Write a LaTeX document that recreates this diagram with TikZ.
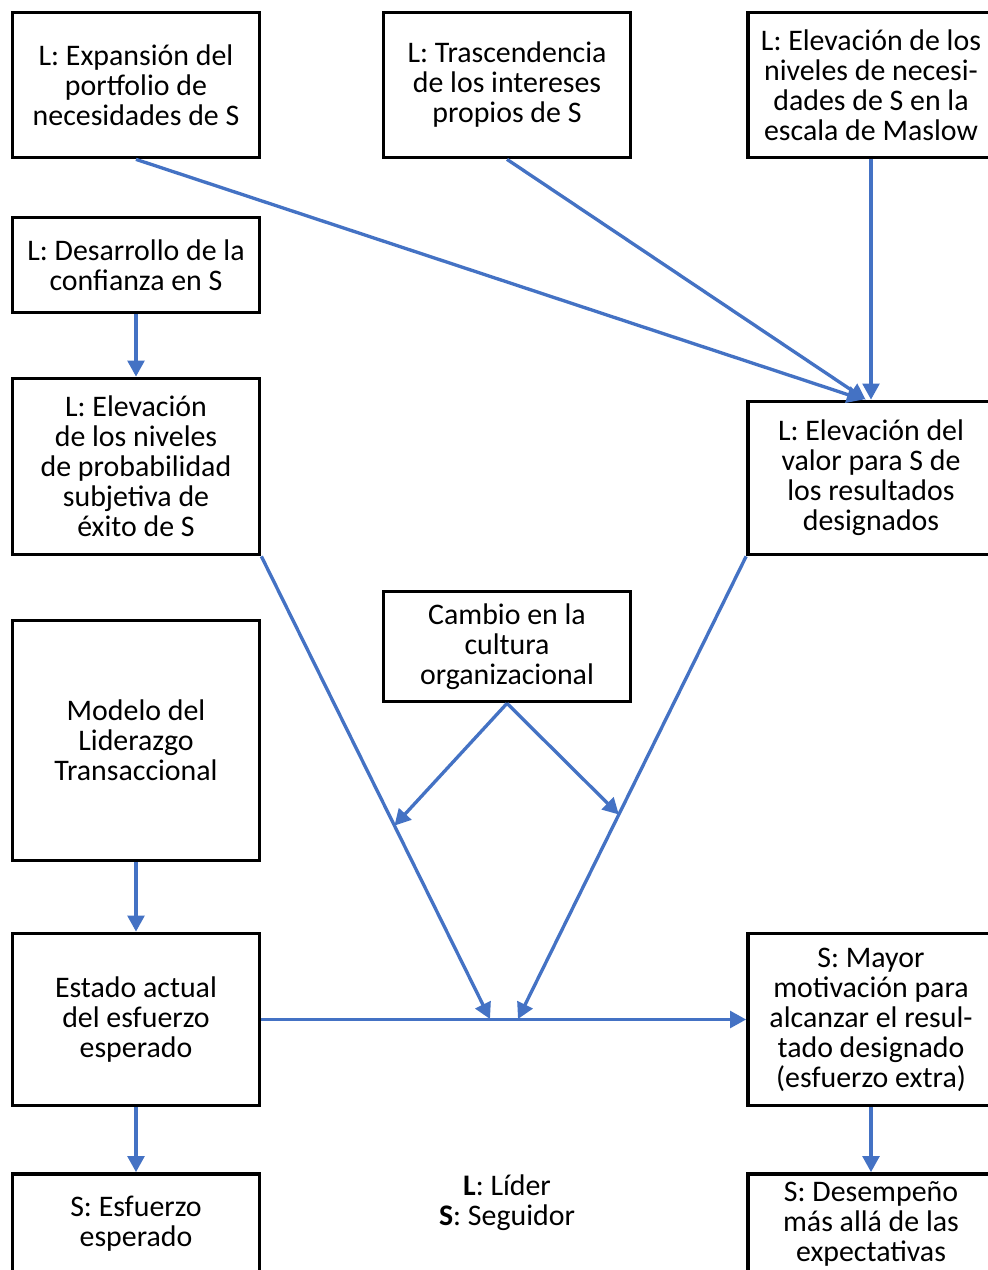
\documentclass[tikz,border=0pt]{standalone}
\usepackage{fontspec}
\setmainfont{Carlito}
\usetikzlibrary{arrows.meta,calc}
\definecolor{arrblue}{HTML}{4472C4}
\begin{document}
\begin{tikzpicture}[x=0.75pt,y=-0.75pt,
  box/.style={draw=black,line width=2.8pt,align=center,inner sep=0pt,
    font=\fontsize{22.4pt}{22.5pt}\selectfont},
  conn/.style={draw=arrblue,line width=2.5pt,-{Triangle[length=12pt,width=12.5pt]}}]
\useasboundingbox (0,0) rectangle (988,1270);
\clip (0,0) rectangle (988,1270);
\fill[white] (0,0) rectangle (988,1270);
% boxes
\node[box,minimum width=185.25pt,minimum height=108.75pt] (exp) at (136,85) {L: Expansión del\\portfolio de\\necesidades de S};
\node[box,minimum width=185.25pt,minimum height=108.75pt] (tras) at (507,85) {L: Trascendencia\\de los intereses\\propios de S};
\node[box,minimum width=184.5pt,minimum height=108.75pt] (mas) at (871,85) {L: Elevación de los\\niveles de necesi-\\dades de S en la\\escala de Maslow};
\node[box,minimum width=185.25pt,minimum height=71.25pt] (des) at (136,265) {L: Desarrollo de la\\confianza en S};
\node[box,minimum width=185.25pt,minimum height=132pt] (prob) at (136,466.5) {L: Elevación\\de los niveles\\de probabilidad\\subjetiva de\\éxito de S};
\node[box,minimum width=184.5pt,minimum height=114.75pt] (val) at (871,478) {L: Elevación del\\valor para S de\\los resultados\\designados};
\node[box,minimum width=185.25pt,minimum height=82.5pt] (cam) at (507,646.5) {Cambio en la\\cultura\\organizacional};
\node[box,minimum width=185.25pt,minimum height=180pt] (mod) at (136,740.5) {Modelo del\\Liderazgo\\Transaccional};
\node[box,minimum width=185.25pt,minimum height=129pt] (est) at (136,1019.5) {Estado actual\\del esfuerzo\\esperado};
\node[box,minimum width=184.5pt,minimum height=129pt] (may) at (871,1019.5) {S: Mayor\\motivación para\\alcanzar el resul-\\tado designado\\(esfuerzo extra)};
\node[box,minimum width=185.25pt,minimum height=75pt] (esf) at (136,1224) {S: Esfuerzo\\esperado};
\node[box,minimum width=184.5pt,minimum height=75pt] (dsp) at (871,1224) {S: Desempeño\\más allá de las\\expectativas};
\node[align=center,inner sep=0pt,font=\fontsize{22.4pt}{22.5pt}\selectfont] (leg) at (507,1203) {\textbf{L}: Líder\\\textbf{S}: Seguidor};
% coordinates
\coordinate (jl) at (490,1019);
\coordinate (jr) at (518,1019);
\coordinate (cl) at ($(prob.south east)!0.582!(jl)$);
\coordinate (cr) at ($(val.south west)!0.558!(jr)$);
% connectors
\draw[conn] (exp.south) -- ([xshift=-6]val.north);
\draw[conn] (tras.south) -- ([xshift=-4]val.north);
\draw[conn] (mas.south) -- (val.north);
\draw[conn] (des.south) -- (prob.north);
\draw[conn] (prob.south east) -- (jl);
\draw[conn] (val.south west) -- (jr);
\draw[conn] (cam.south) -- (cl);
\draw[conn] (cam.south) -- (cr);
\draw[conn] (mod.south) -- (est.north);
\draw[conn] (est.east) -- (may.west);
\draw[conn] (est.south) -- (esf.north);
\draw[conn] (may.south) -- (dsp.north);
\end{tikzpicture}
\end{document}
